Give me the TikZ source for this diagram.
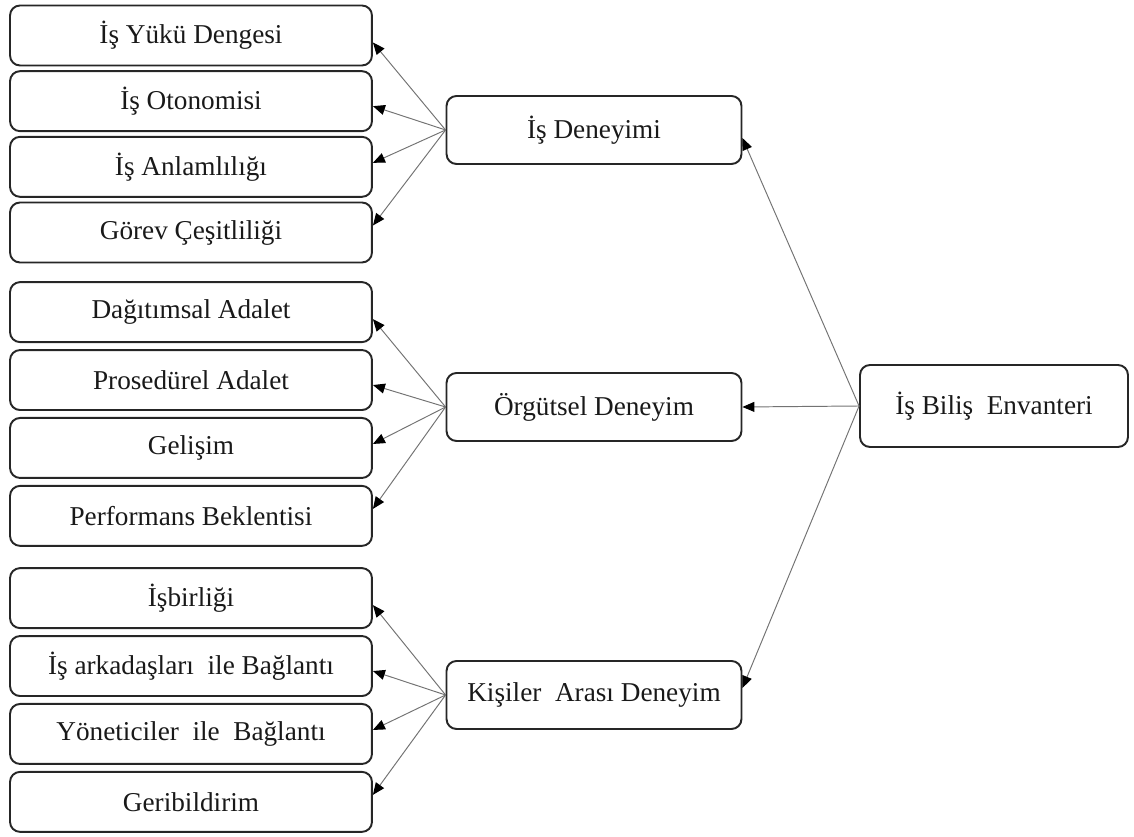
\documentclass[tikz,border=0pt]{standalone}
\usepackage{fontspec}
\setmainfont{Liberation Serif}
\usetikzlibrary{matrix, arrows.meta}

\begin{document}
\begin{tikzpicture}
        [x=0.02cm, y=-0.02cm,
        item/.style={draw=black!85, line width=1.1pt, rounded corners=0.2cm,
          minimum width=7.24cm, minimum height=1.2cm, inner sep=0pt,
          font=\fontsize{15.5}{18}\selectfont, text=black!90},
        mid/.style={item, minimum width=5.9cm, minimum height=1.36cm},
        root/.style={item, minimum width=5.36cm, minimum height=1.64cm},
        group/.style={matrix of nodes, row sep=0.12cm, inner sep=0pt,
          nodes={item}},
        link/.style={draw=black!55, line width=0.55pt,
          -{Triangle[length=2.4mm, width=2mm, color=black]}}]

    \useasboundingbox (0,0) rectangle (1134,837);

    % alt boyutlar
    \matrix (g1) [group, row sep=0.075cm] at (191,134)
    {
      İş Yükü Dengesi \\
      İş Otonomisi \\
      İş Anlamlılığı \\
      Görev Çeşitliliği \\
    };
    \matrix (g2) [group] at (191,414)
    {
      Dağıtımsal Adalet \\
      Prosedürel Adalet \\
      Gelişim \\
      Performans Beklentisi \\
    };
    \matrix (g3) [group] at (191,700)
    {
      İşbirliği \\
      İş arkadaşları~ ile Bağlantı \\
      Yöneticiler~ ile~ Bağlantı \\
      Geribildirim \\
    };

    % deneyim alanlari
    \node[mid] (ed) at (594,130) {İş Deneyimi};
    \node[mid] (od) at (594,407) {Örgütsel Deneyim};
    \node[mid] (kd) at (594,695) {Kişiler~ Arası Deneyim};

    \node[root] (env) at (994,406) {İş Biliş~ Envanteri};

    \foreach \g/\m in {g1/ed, g2/od, g3/kd}
      \foreach \r/\s in {1/-0.14, 2/-0.1, 3/0.08, 4/0.14}
        \draw[link] (\m.west) -- ([yshift=\s cm]\g-\r-1.east);

    \draw[link] (env.west) -- ([yshift=-0.16cm]ed.east);
    \draw[link] (env.west) -- (od.east);
    \draw[link] (env.west) -- ([yshift=0.14cm]kd.east);
\end{tikzpicture}
\end{document}
